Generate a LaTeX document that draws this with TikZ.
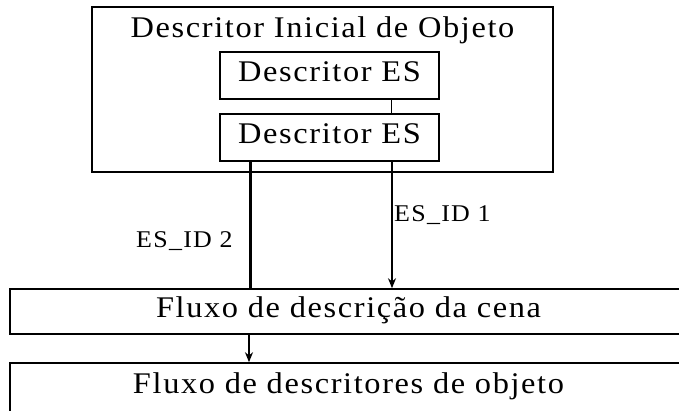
\documentclass[tikz,border=0pt]{standalone}
\usepackage{fontspec}
\setmainfont{Liberation Serif}
\newfontfamily\wideserif[LetterSpace=5]{Liberation Serif}
\newfontfamily\labelserif[LetterSpace=5]{Liberation Serif}
\usepackage{graphicx}
\usetikzlibrary{arrows.meta}
\newcommand{\wt}[1]{\scalebox{1.08}[1]{#1}}
\begin{document}
\begin{tikzpicture}[x=1pt,y=-1pt,
  box/.style={draw, line width=1.6pt, inner sep=0pt, text height=11pt, text depth=0pt,
              font=\wideserif\fontsize{30}{33}\selectfont},
  ttl/.style={inner sep=0pt, anchor=base, font=\wideserif\fontsize{30}{33}\selectfont},
  lbl/.style={inner sep=0pt, anchor=base west, font=\labelserif\fontsize{24}{27}\selectfont},
  link/.style={line width=1.6pt},
  thickline/.style={line width=3pt},
  arr/.style={line width=1.6pt, -{Stealth[length=10pt,width=8pt]}}]
\clip (0,0) rectangle (679,410);
\fill[white] (0,0) rectangle (679,410);
% outer descriptor box
\node[box, minimum width=461pt, minimum height=165pt] (outer) at (322.5,89.5) {};
\node[ttl] (title) at (322.5,37) {\wt{Descritor Inicial de Objeto}};
% inner ES descriptors
\node[box, minimum width=219pt, minimum height=47pt] (d1) at (329.5,75.5) {\wt{Descritor ES}};
\node[box, minimum width=219pt, minimum height=47pt] (d2) at (329.5,137.5) {\wt{Descritor ES}};
% streams
\node[box, minimum width=677pt, minimum height=45pt] (scene) at (348.5,311.5) {\wt{Fluxo de descrição da cena}};
\node[box, minimum width=677pt, minimum height=49pt] (od) at (348.5,387.5) {\wt{Fluxo de descritores de objeto}};
% column positions
\coordinate (xc) at (391.5,0);
\coordinate (xr) at (392,0);
\coordinate (xl) at (250,0);
\coordinate (xb) at (249,0);
% connectors
\draw[link] (d1.south -| xc) -- (d2.north -| xc);
\draw[thickline] (d2.south -| xl) -- (scene.north -| xl);
\draw[arr] (d2.south -| xr) -- (scene.north -| xr);
\draw[arr] (scene.south -| xb) -- (od.north -| xb);
% labels
\node[lbl] (id2) at (136,247) {\wt{ES\_ID 2}};
\node[lbl] (id1) at (394,221) {\wt{ES\_ID 1}};
\end{tikzpicture}
\end{document}
